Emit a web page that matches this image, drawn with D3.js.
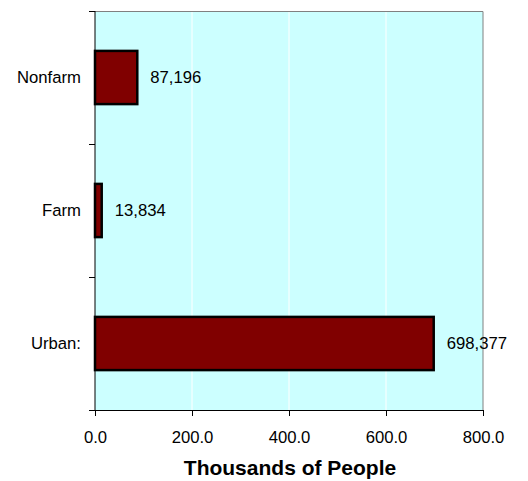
<!DOCTYPE html>
<html>
<head>
<meta charset="utf-8">
<script src="https://cdn.jsdelivr.net/npm/d3@7"></script>
<style>
  body { margin: 0; background: #fff; }
  text { font-family: Arial, "Liberation Sans", sans-serif; }
</style>
</head>
<body>
<div id="chart"></div>
<script>
// data, thousands of people
const categories = ["Nonfarm", "Farm", "Urban:"];
const values = [87.196, 13.834, 698.377];
const valueLabels = ["87,196", "13,834", "698,377"];
const xTicks = [0, 200, 400, 600, 800];

const margin = { top: 11, right: 45, bottom: 71, left: 95 };
const width = 528 - margin.left - margin.right;
const height = 481 - margin.top - margin.bottom;

const svg = d3.select("#chart")
    .append("svg")
    .attr("width", 528)
    .attr("height", 481)
    .append("g")
    .attr("transform", "translate(" + margin.left + "," + margin.top + ")");

const x = d3.scaleLinear().domain([0, 800]).range([0, width]);
const y = d3.scaleBand().domain(categories).range([0, height]).paddingInner(0.6).paddingOuter(0.3);

// plot background
svg.append("rect")
    .attr("width", width)
    .attr("height", height)
    .attr("fill", "#CCFFFF");

// gridlines
svg.selectAll(".grid")
    .data(xTicks.slice(1, -1))
    .enter().append("line")
    .attr("x1", d => x(d)).attr("x2", d => x(d))
    .attr("y1", 0).attr("y2", height)
    .attr("stroke", "#fff")
    .attr("stroke-width", 1);

// top and right border
svg.append("path")
    .attr("d", `M0,0.5H${width}V${height}`)
    .attr("fill", "none")
    .attr("stroke", "#808080")
    .attr("stroke-width", 1);

// bars
svg.selectAll(".bar")
    .data(values)
    .enter().append("rect")
    .attr("x", x(0))
    .attr("y", (d, i) => y(categories[i]))
    .attr("width", d => x(d) - x(0))
    .attr("height", y.bandwidth())
    .attr("fill", "#800000")
    .attr("stroke", "#000")
    .attr("stroke-width", 2.5);

// value labels
svg.selectAll(".val")
    .data(values)
    .enter().append("text")
    .attr("x", d => x(d) + 13)
    .attr("y", (d, i) => y(categories[i]) + y.bandwidth() / 2)
    .attr("dy", "0.35em")
    .attr("font-size", "16.7px")
    .attr("fill", "#000")
    .text((d, i) => valueLabels[i]);

// x axis
const xAxis = svg.append("g")
    .attr("transform", `translate(0,${height})`)
    .call(d3.axisBottom(x).tickValues(xTicks).tickFormat(d3.format(".1f")).tickSize(6).tickSizeOuter(0));
xAxis.select(".domain").attr("stroke", "#000");
xAxis.selectAll("line").attr("stroke", "#000");
xAxis.selectAll("text")
    .attr("font-size", "16.7px")
    .attr("font-family", "Arial, 'Liberation Sans', sans-serif")
    .attr("fill", "#000")
    .attr("dy", "1.43em");

// y axis, ticks at band boundaries
const yAxis = svg.append("g");
yAxis.append("line")
    .attr("x1", 0).attr("x2", 0)
    .attr("y1", 0).attr("y2", height)
    .attr("stroke", "#000");
const step = height / categories.length;
yAxis.selectAll(".ytick")
    .data(d3.range(categories.length + 1))
    .enter().append("line")
    .attr("x1", -6).attr("x2", 0)
    .attr("y1", d => Math.round(d * step) + 0.5)
    .attr("y2", d => Math.round(d * step) + 0.5)
    .attr("stroke", "#000");
yAxis.selectAll(".ylab")
    .data(categories)
    .enter().append("text")
    .attr("x", -14)
    .attr("y", d => y(d) + y.bandwidth() / 2)
    .attr("dy", "0.35em")
    .attr("text-anchor", "end")
    .attr("font-size", "16.7px")
    .attr("fill", "#000")
    .text(d => d);

// axis title
svg.append("text")
    .attr("x", width / 2 + 1)
    .attr("y", height + 65)
    .attr("text-anchor", "middle")
    .attr("font-size", "21px")
    .attr("font-weight", "bold")
    .attr("fill", "#000")
    .text("Thousands of People");
</script>
</body>
</html>
